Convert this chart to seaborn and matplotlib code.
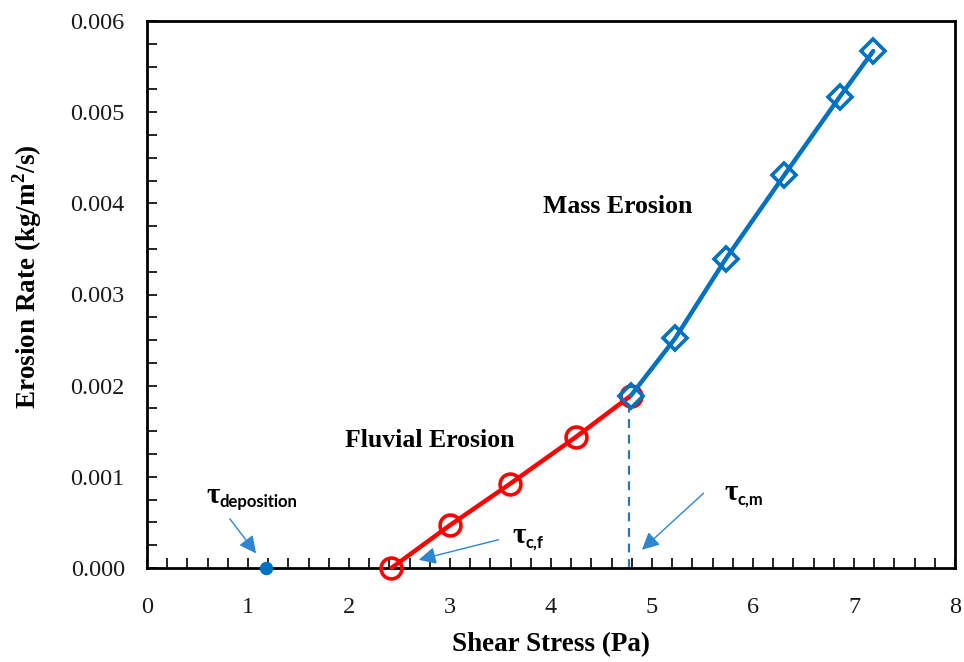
import matplotlib
matplotlib.use("Agg")
import matplotlib.pyplot as plt
import matplotlib.transforms as mtrans
import seaborn as sns
import pandas as pd
from matplotlib.ticker import MultipleLocator

# ---- data ----
fluvial_stress = [2.42, 3.00, 3.59, 4.25, 4.79]
fluvial_rate = [0.0000, 0.00047, 0.00092, 0.00144, 0.00189]
mass_stress = [4.79, 5.23, 5.73, 6.31, 6.86, 7.19]
mass_rate = [0.00189, 0.00252, 0.00339, 0.00431, 0.00517, 0.00567]
deposition_stress = [1.18]
deposition_rate = [0.0]
tau_cm = 4.77

x_ticks = [0, 1, 2, 3, 4, 5, 6, 7, 8]
y_ticks = [0.000, 0.001, 0.002, 0.003, 0.004, 0.005, 0.006]

RED = "#ff0000"
BLUE = "#0070c0"
ABLUE = "#2e86d0"

sns.set_theme(style="ticks")
plt.rcParams["font.family"] = ["Liberation Serif", "DejaVu Serif"]
plt.rcParams["text.color"] = "black"
plt.rcParams["axes.labelcolor"] = "black"
plt.rcParams["mathtext.fontset"] = "custom"
plt.rcParams["mathtext.rm"] = "Liberation Serif:bold"

fig = plt.figure(figsize=(9.64, 6.62), dpi=100)
ax = fig.add_axes([147/964, 1-568/662, (955-147)/964, (568-21)/662])

df_f = pd.DataFrame({"x": fluvial_stress, "y": fluvial_rate})
df_m = pd.DataFrame({"x": mass_stress, "y": mass_rate})
df_d = pd.DataFrame({"x": deposition_stress, "y": deposition_rate})

# dashed critical line
ax.plot([tau_cm, tau_cm], [0, fluvial_rate[-1]], color="#2e75b6", lw=1.6,
        ls=(0, (4, 3)), zorder=2)

sns.lineplot(data=df_f, x="x", y="y", ax=ax, color=RED, lw=3.2, marker="o",
             markersize=15, markerfacecolor="none", markeredgecolor=RED,
             markeredgewidth=2.6, zorder=3, clip_on=False)
sns.lineplot(data=df_m, x="x", y="y", ax=ax, color=BLUE, lw=3.2, marker="D",
             markersize=12, markerfacecolor="none", markeredgecolor=BLUE,
             markeredgewidth=2.6, zorder=4, clip_on=False)
sns.scatterplot(data=df_d, x="x", y="y", ax=ax, color=BLUE, s=80,
                edgecolor=BLUE, zorder=5, clip_on=False)

ax.set_xlim(0, 8)
ax.set_ylim(0, 0.006)
ax.set_xticks(x_ticks)
ax.set_yticks(y_ticks)
ax.set_xticklabels([str(t) for t in x_ticks])
ax.set_yticklabels([f"{t:.3f}" for t in y_ticks])
ax.xaxis.set_minor_locator(MultipleLocator(0.2))
ax.yaxis.set_minor_locator(MultipleLocator(0.00025))
ax.tick_params(axis="both", which="both", direction="in", color="black",
               width=1.2)
ax.tick_params(axis="both", which="major", length=7, labelsize=17.5,
               labelcolor="#1a1a1a")
ax.tick_params(axis="both", which="minor", length=7)
ax.tick_params(axis="x", which="major", pad=21)
ax.tick_params(axis="y", which="major", pad=16)

for s in ax.spines.values():
    s.set_visible(True)
    s.set_color("black")
    s.set_linewidth(2.0)

ax.set_xlabel("Shear Stress (Pa)", fontsize=19.5, fontweight="bold")
ax.set_ylabel("Erosion Rate (kg/m$^{2}$/s)", fontsize=19.5,
              fontweight="bold")
ax.xaxis.set_label_coords(0.5, -0.117)
ax.yaxis.set_label_coords(-0.128, 0.533)

ax.text(4.66, 0.00397, "Mass Erosion", fontsize=18.5, fontweight="bold",
        ha="center", va="center")
ax.text(2.80, 0.00140, "Fluvial Erosion", fontsize=18.5, fontweight="bold",
        ha="center", va="center")

# tau labels: large serif tau plus sans-serif subscript
tau_x = [0.59, 3.62, 5.72]
tau_y = [0.000710, 0.000270, 0.000743]
tau_sub = ["deposition", "c,f", "c,m"]
for tx, ty, sub in zip(tau_x, tau_y, tau_sub):
    ax.text(tx, ty, "τ", fontsize=21, fontweight="bold", ha="left",
            va="baseline", family=["Liberation Serif", "DejaVu Serif"])
    tr = mtrans.offset_copy(ax.transData, fig=fig, x=13, y=-4, units="dots")
    ax.text(tx, ty, sub, fontsize=12, fontweight="bold", ha="left",
            va="baseline", transform=tr, family=["Lato", "DejaVu Sans"])

arrow = dict(arrowstyle="-|>", color=ABLUE, lw=1.0, mutation_scale=26,
             shrinkA=0, shrinkB=0)
ax.annotate("", xy=(1.08, 0.00016), xytext=(0.82, 0.00054), arrowprops=arrow)
ax.annotate("", xy=(2.69, 0.00009), xytext=(3.48, 0.00031), arrowprops=arrow)
ax.annotate("", xy=(4.90, 0.00020), xytext=(5.51, 0.00082), arrowprops=arrow)

fig.savefig("out.png", dpi=100, facecolor="white")
